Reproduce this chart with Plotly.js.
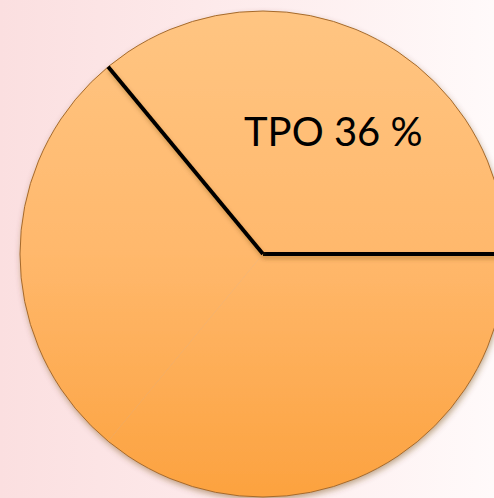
<!DOCTYPE html>
<html>
<head>
<meta charset="utf-8">
<script src="https://cdn.plot.ly/plotly-3.0.1.min.js"></script>
<style>
html, body { margin: 0; padding: 0; overflow: hidden; width: 494px; height: 498px; }
body { background: linear-gradient(to right, #fbdfe0 0%, #fde9ea 40%, #fffafa 100%); }
#chart { width: 540px; height: 510px; }
</style>
</head>
<body>
<div id="chart"></div>
<script>
// Data
const labels = ['TPO', 'Autres'];
const values = [36, 64];
const labelText = ['TPO 36 %', ''];

// Layout geometry (pixels)
const W = 540, H = 510;
const cx = 263, cy = 254, R = 243;

const dom = {
  x: [(cx - R) / W, (cx + R) / W],
  y: [(H - cy - R) / H, (H - cy + R) / H]
};

const trace = {
  type: 'pie',
  labels: labels,
  values: values,
  sort: false,
  direction: 'counterclockwise',
  rotation: 90,
  textinfo: 'none',
  hoverinfo: 'skip',
  showlegend: false,
  domain: dom,
  marker: {
    colors: ['#ffbb72', '#ffb56a'],
    line: { color: 'rgba(0,0,0,0)', width: 0 }
  }
};

// outline of the pie
const shapes = [{
  type: 'circle', xref: 'paper', yref: 'paper', layer: 'above',
  x0: (cx - R) / W, x1: (cx + R) / W,
  y0: (H - cy - R) / H, y1: (H - cy + R) / H,
  line: { color: '#a66a2c', width: 1 }, fillcolor: 'rgba(0,0,0,0)'
}];
// separator lines at slice boundaries, computed from the values
const total = values.reduce((a, b) => a + b, 0);
let cum = 0;
const startDeg = 0; // 3 o'clock, counterclockwise
for (let i = 0; i < values.length; i++) {
  const a = (startDeg + cum / total * 360) * Math.PI / 180;
  shapes.push({
    type: 'line', xref: 'paper', yref: 'paper', layer: 'above',
    x0: cx / W, y0: (H - cy) / H,
    x1: (cx + R * Math.cos(a)) / W, y1: (H - cy + R * Math.sin(a)) / H,
    line: { color: '#000000', width: 4 }
  });
  cum += values[i];
}

const layout = {
  width: W, height: H,
  margin: { l: 0, r: 0, t: 0, b: 0 },
  paper_bgcolor: 'rgba(0,0,0,0)',
  plot_bgcolor: 'rgba(0,0,0,0)',
  shapes: shapes,
  annotations: [{
    text: labelText[0],
    xref: 'paper', yref: 'paper',
    x: 333 / W, y: (H - 131) / H,
    xanchor: 'center', yanchor: 'middle',
    showarrow: false,
    font: { family: 'Lato, "Open Sans", sans-serif', size: 40, color: '#000000' }
  }]
};

Plotly.newPlot('chart', [trace], layout, { displayModeBar: false, staticPlot: true }).then(function (gd) {
  const svg = gd.querySelector('svg.main-svg');
  const ns = 'http://www.w3.org/2000/svg';
  let defs = svg.querySelector('defs');
  if (!defs) { defs = document.createElementNS(ns, 'defs'); svg.insertBefore(defs, svg.firstChild); }
  const paths = gd.querySelectorAll('.pielayer .slice path.surface');
  let y0 = Infinity, y1 = -Infinity;
  paths.forEach(p => { const b = p.getBBox(); y0 = Math.min(y0, b.y); y1 = Math.max(y1, b.y + b.height); });
  const lg = document.createElementNS(ns, 'linearGradient');
  lg.setAttribute('id', 'pieGrad');
  lg.setAttribute('gradientUnits', 'userSpaceOnUse');
  lg.setAttribute('x1', 0); lg.setAttribute('x2', 0);
  lg.setAttribute('y1', y0); lg.setAttribute('y2', y1);
  [['0', '#ffc582'], ['0.5', '#ffb86c'], ['1', '#fca23f']].forEach(s => {
    const st = document.createElementNS(ns, 'stop');
    st.setAttribute('offset', s[0]); st.setAttribute('stop-color', s[1]);
    lg.appendChild(st);
  });
  defs.appendChild(lg);
  function mkShadow(id, dx, dy, sd, op) {
    const f = document.createElementNS(ns, 'filter');
    f.setAttribute('id', id);
    f.setAttribute('filterUnits', 'userSpaceOnUse');
    f.setAttribute('x', '-50'); f.setAttribute('y', '-50');
    f.setAttribute('width', W + 100); f.setAttribute('height', H + 100);
    const ds = document.createElementNS(ns, 'feDropShadow');
    ds.setAttribute('dx', dx); ds.setAttribute('dy', dy);
    ds.setAttribute('stdDeviation', sd);
    ds.setAttribute('flood-color', '#6b3f10'); ds.setAttribute('flood-opacity', op);
    f.appendChild(ds);
    defs.appendChild(f);
  }
  mkShadow('pieShadow', '1', '3', '3', '0.45');
  mkShadow('lineShadow', '1', '3', '2', '0.35');
  paths.forEach(p => { p.style.fill = 'url(#pieGrad)'; p.style.stroke = 'none'; });
  const tr = gd.querySelector('.pielayer .trace');
  if (tr) tr.setAttribute('filter', 'url(#pieShadow)');
  const sp = gd.querySelectorAll('.layer-above .shapelayer path');
  sp.forEach((p, i) => { if (i > 0) p.setAttribute('filter', 'url(#lineShadow)'); });
});
</script>
</body>
</html>
